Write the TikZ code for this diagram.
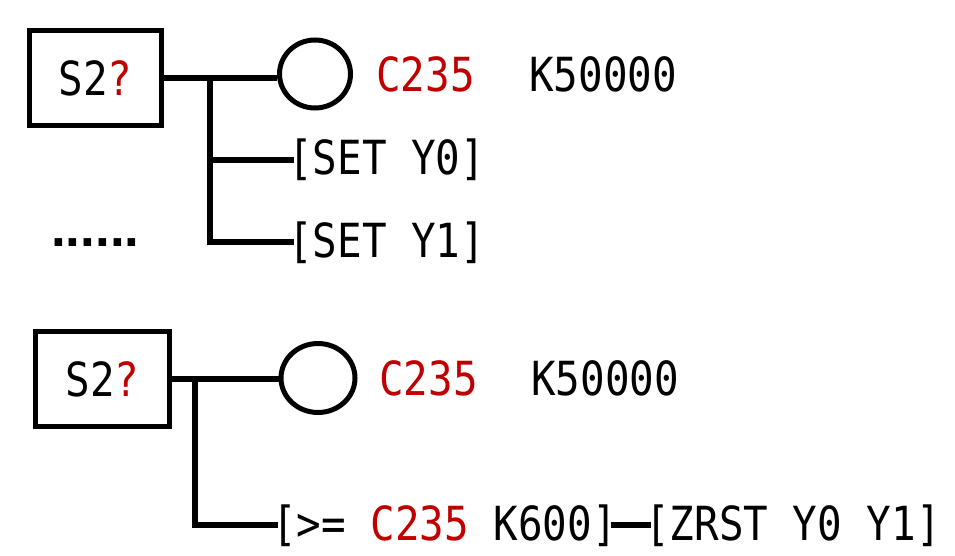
\documentclass[tikz,border=0pt]{standalone}
\usepackage{fontspec}
\usetikzlibrary{shapes,positioning}
\newfontfamily\plcfont[FakeStretch=0.87]{DejaVu Sans Mono}
\newfontfamily\dotfont{Liberation Sans}
\definecolor{plcred}{RGB}{192,0,0}

\begin{document}
\begin{tikzpicture}[
    x=1pt, y=-1pt,
    stepbox/.style={rectangle, draw, line width=5.5pt, inner sep=0pt, font=\plcfont\fontsize{47}{56}\selectfont},
    coil/.style={ellipse, draw, line width=5pt, inner sep=0pt},
    instr/.style={anchor=base west, inner sep=0pt, font=\plcfont\fontsize{47}{56}\selectfont},
    wire/.style={line width=5.5pt}
]
    \useasboundingbox (0,0) rectangle (955,556);

    % Upper rung
    \node[stepbox, minimum width=132pt, minimum height=95pt] (step1) at (95.5,78) {S2\textcolor{plcred}{?}};
    \node[coil, minimum width=71pt, minimum height=68pt] (coil1) at (315,74) {};
    \node[instr, text=plcred] (cnt1) at (376,92) {C235};
    \node[instr] (k1) at (529,92) {K50000};
    \node[instr] (set0) at (288,175) {[SET Y0]};
    \node[instr] (set1) at (288,257) {[SET Y1]};
    \node[anchor=base west, inner sep=0pt, font=\dotfont\bfseries\fontsize{53}{60}\selectfont] (more) at (51,246) {......};
    \coordinate (j1) at (210,78);

    \draw[wire] (step1.east) -- (step1.east -| coil1.west);
    \draw[wire] (j1) |- ([xshift=6pt]set0.west);
    \draw[wire] (j1) |- ([xshift=6pt]set1.west);

    % Lower rung
    \node[stepbox, minimum width=134pt, minimum height=95pt] (step2) at (102.5,379) {S2\textcolor{plcred}{?}};
    \node[coil, minimum width=74pt, minimum height=69pt] (coil2) at (318,378) {};
    \node[instr, text=plcred] (cnt2) at (379,395) {C235};
    \node[instr] (k2) at (531,395) {K50000};
    \node[instr] (cmp) at (272,540) {[>= \textcolor{plcred}{C235} K600]};
    \node[instr, right=28pt of cmp.base east, anchor=base west] (zrst) {[ZRST Y0 Y1]};
    \coordinate (j2) at (195,377);

    \draw[wire] (step2.east) -- (step2.east -| coil2.west);
    \draw[wire] (j2) |- ([xshift=6pt]cmp.west);
    \draw[wire] ([xshift=-6pt]cmp.east) -- ([xshift=6pt]zrst.west);

\end{tikzpicture}
\end{document}
